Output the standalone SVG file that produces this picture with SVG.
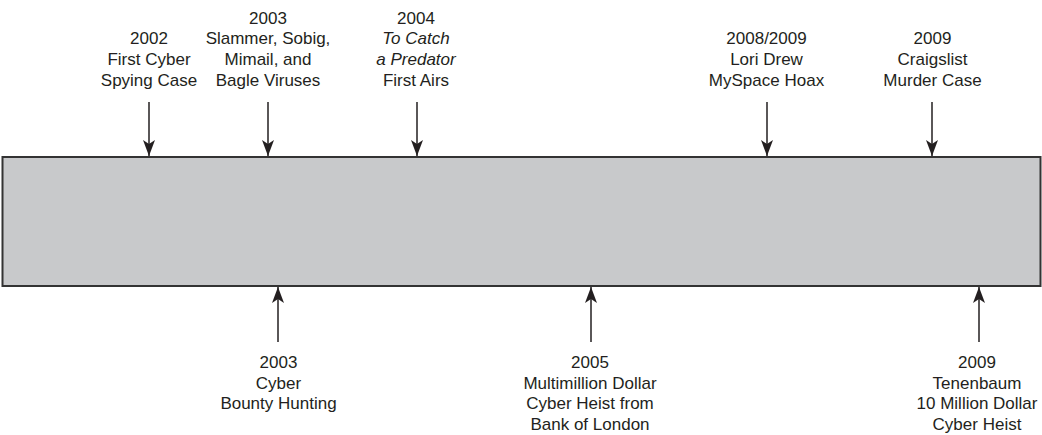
<svg xmlns="http://www.w3.org/2000/svg" width="1042" height="435" viewBox="0 0 1042 435">
  <style>
    .lbl { font-family: "Liberation Sans", Arial, Helvetica, sans-serif; font-size: 17px; fill: #231f20; text-anchor: middle; }
    .it { font-style: italic; }
    .conn { stroke: #231f20; stroke-width: 1.5; fill: none; marker-end: url(#ah); }
  </style>
  <defs>
    <marker id="ah" markerUnits="userSpaceOnUse" viewBox="0 0 16 12" refX="16" refY="6" markerWidth="16" markerHeight="12" orient="auto">
      <path d="M0,0 L16,6 L0,12 L4,6 z" fill="#231f20"/>
    </marker>
  </defs>
  <rect width="1042" height="435" fill="#ffffff"/>

  <g id="timeline-bar">
    <rect x="2.5" y="157" width="1038" height="129" fill="#c8c9cb" stroke="#333333" stroke-width="2"/>
  </g>

  <g id="connectors">
    <line class="conn" x1="149" y1="102" x2="149" y2="156"/>
    <line class="conn" x1="268" y1="102" x2="268" y2="156"/>
    <line class="conn" x1="417" y1="102" x2="417" y2="156"/>
    <line class="conn" x1="767" y1="102" x2="767" y2="156"/>
    <line class="conn" x1="932" y1="102" x2="932" y2="156"/>
    <line class="conn" x1="278" y1="342" x2="278" y2="287"/>
    <line class="conn" x1="591" y1="342" x2="591" y2="287"/>
    <line class="conn" x1="979" y1="342" x2="979" y2="287"/>
  </g>

  <g id="event-2002">
    <text class="lbl" x="149" y="44.2">2002</text>
    <text class="lbl" x="149" y="64.9">First Cyber</text>
    <text class="lbl" x="149" y="85.6">Spying Case</text>
  </g>
  <g id="event-2003-viruses">
    <text class="lbl" x="268" y="23.5">2003</text>
    <text class="lbl" x="268" y="44.2">Slammer, Sobig,</text>
    <text class="lbl" x="268" y="64.9">Mimail, and</text>
    <text class="lbl" x="268" y="85.6">Bagle Viruses</text>
  </g>
  <g id="event-2004">
    <text class="lbl" x="416" y="23.5">2004</text>
    <text class="lbl it" x="416" y="44.2">To Catch</text>
    <text class="lbl it" x="416" y="64.9">a Predator</text>
    <text class="lbl" x="416" y="85.6">First Airs</text>
  </g>
  <g id="event-2008-2009">
    <text class="lbl" x="766.5" y="44.2">2008/2009</text>
    <text class="lbl" x="766.5" y="64.9">Lori Drew</text>
    <text class="lbl" x="766.5" y="85.6">MySpace Hoax</text>
  </g>
  <g id="event-2009-craigslist">
    <text class="lbl" x="932.5" y="44.2">2009</text>
    <text class="lbl" x="932.5" y="64.9">Craigslist</text>
    <text class="lbl" x="932.5" y="85.6">Murder Case</text>
  </g>
  <g id="event-2003-bounty">
    <text class="lbl" x="278.5" y="368">2003</text>
    <text class="lbl" x="278.5" y="388.7">Cyber</text>
    <text class="lbl" x="278.5" y="409.4">Bounty Hunting</text>
  </g>
  <g id="event-2005">
    <text class="lbl" x="590" y="368">2005</text>
    <text class="lbl" x="590" y="388.7">Multimillion Dollar</text>
    <text class="lbl" x="590" y="409.4">Cyber Heist from</text>
    <text class="lbl" x="590" y="430.1">Bank of London</text>
  </g>
  <g id="event-2009-tenenbaum">
    <text class="lbl" x="977" y="368">2009</text>
    <text class="lbl" x="977" y="388.7">Tenenbaum</text>
    <text class="lbl" x="977" y="409.4">10 Million Dollar</text>
    <text class="lbl" x="977" y="430.1">Cyber Heist</text>
  </g>
</svg>
